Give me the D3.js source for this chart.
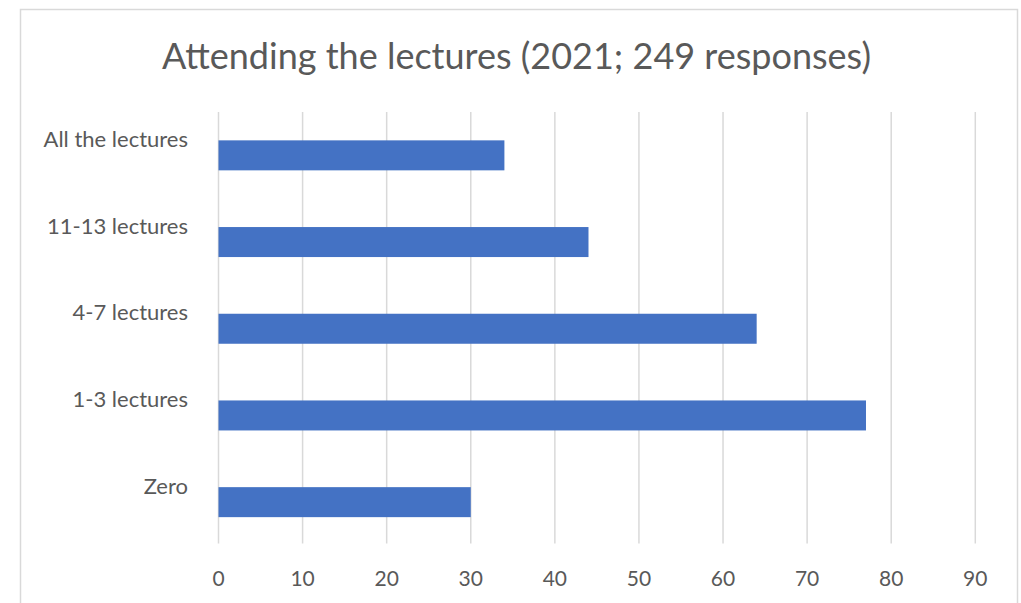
<!DOCTYPE html>
<html>
<head>
<meta charset="utf-8">
<script src="https://cdn.jsdelivr.net/npm/d3@7"></script>
<style>
  html, body { margin: 0; padding: 0; background: #ffffff; }
  svg { display: block; }
  text { font-family: Lato, "Open Sans", sans-serif; fill: #595959; }
</style>
</head>
<body>
<svg id="chart" width="1021" height="603"></svg>
<script>
// Attendance counts per category (249 responses in total)
const categories = ["All the lectures", "11-13 lectures", "4-7 lectures", "1-3 lectures", "Zero"];
const responses = [34, 44, 64, 77, 30];
const xTicks = [0, 10, 20, 30, 40, 50, 60, 70, 80, 90];
const chartTitle = "Attending the lectures (2021; 249 responses)";

const svg = d3.select("#chart");

// chart frame
svg.append("rect")
  .attr("x", 20.5).attr("y", 9.5)
  .attr("width", 997).attr("height", 620)
  .attr("fill", "#ffffff")
  .attr("stroke", "#d9d9d9")
  .attr("stroke-width", 1.5);

const plot = { left: 218.5, right: 975.3, top: 112, bottom: 545.5 };

const x = d3.scaleLinear().domain([0, 90]).range([plot.left, plot.right]);
const y = d3.scaleBand()
  .domain(categories)
  .range([plot.top, plot.bottom])
  .paddingInner(0.654)
  .paddingOuter(0.327);

// vertical gridlines
svg.append("g")
  .selectAll("line")
  .data(xTicks)
  .join("line")
  .attr("x1", d => x(d)).attr("x2", d => x(d))
  .attr("y1", plot.top).attr("y2", plot.bottom - 2)
  .attr("stroke", "#d9d9d9")
  .attr("stroke-width", 1.5);

// bars
svg.append("g")
  .selectAll("rect")
  .data(categories.map((c, i) => ({ c, v: responses[i] })))
  .join("rect")
  .attr("x", x(0))
  .attr("y", d => y(d.c))
  .attr("width", d => x(d.v) - x(0))
  .attr("height", y.bandwidth())
  .attr("fill", "#4472c4");

// category labels
svg.append("g")
  .selectAll("text")
  .data(categories)
  .join("text")
  .attr("x", 188)
  .attr("y", d => y(d) - 2)
  .attr("text-anchor", "end")
  .attr("dominant-baseline", "central")
  .attr("font-size", 22)
  .text(d => d);

// value axis labels
svg.append("g")
  .selectAll("text")
  .data(xTicks)
  .join("text")
  .attr("x", d => x(d))
  .attr("y", 577)
  .attr("text-anchor", "middle")
  .attr("dominant-baseline", "central")
  .attr("font-size", 21)
  .text(d => d);

// title
svg.append("text")
  .attr("x", (163 + 870) / 2)
  .attr("y", 69)
  .attr("text-anchor", "middle")
  .attr("font-size", 36)
  .text(chartTitle);
</script>
</body>
</html>
